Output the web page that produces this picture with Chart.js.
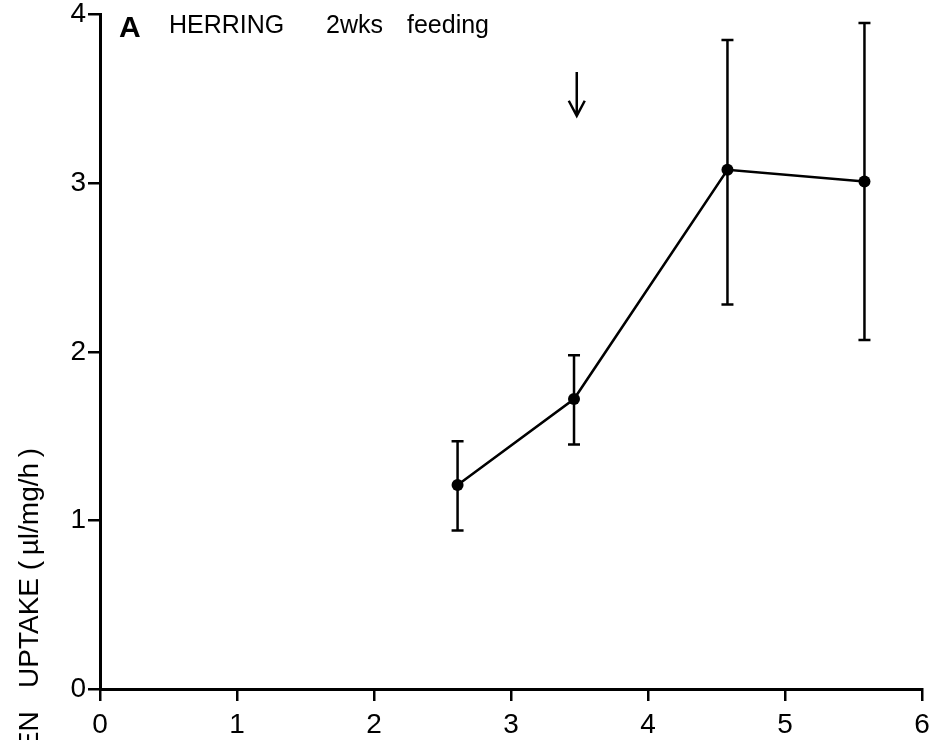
<!DOCTYPE html>
<html>
<head>
<meta charset="utf-8">
<script src="https://cdn.jsdelivr.net/npm/chart.js@4.4.1/dist/chart.umd.min.js"></script>
<style>
  html, body { margin: 0; padding: 0; background: #fff; }
  #wrap { width: 938px; height: 740px; position: relative; }
</style>
</head>
<body>
<div id="wrap"><canvas id="c" width="938" height="740"></canvas></div>
<script>
// Oxygen uptake of herring larvae after 2 weeks of feeding
const ages      = [2.61, 3.46, 4.58, 5.58];
const uptake    = [1.21, 1.72, 3.08, 3.01];
const errLow    = [0.94, 1.45, 2.28, 2.07];
const errHigh   = [1.47, 1.98, 3.85, 3.95];
const xTicks    = [0, 1, 2, 3, 4, 5, 6];
const yTicks    = [0, 1, 2, 3, 4];
const arrowX    = 3.48;
const arrowFrom = 3.66;
const arrowTo   = 3.40;

const INK = '#000';
const FONT = '"Liberation Sans", "DejaVu Sans", sans-serif';

// vertical error bars with flat caps
const errorBars = {
  id: 'errorBars',
  afterDatasetsDraw(chart) {
    const { ctx, scales: { x, y } } = chart;
    ctx.save();
    ctx.strokeStyle = INK;
    ctx.lineWidth = 2.5;
    ages.forEach((a, i) => {
      const px = x.getPixelForValue(a);
      const top = y.getPixelForValue(errHigh[i]);
      const bot = y.getPixelForValue(errLow[i]);
      ctx.beginPath();
      ctx.moveTo(px, top); ctx.lineTo(px, bot);
      ctx.moveTo(px - 6, top); ctx.lineTo(px + 6, top);
      ctx.moveTo(px - 6, bot); ctx.lineTo(px + 6, bot);
      ctx.stroke();
    });
    ctx.restore();
  }
};

// downward arrow, panel heading and the rotated y-axis title
const annotations = {
  id: 'annotations',
  afterDraw(chart) {
    const { ctx, scales: { x, y } } = chart;
    ctx.save();
    ctx.strokeStyle = INK;
    ctx.fillStyle = INK;
    ctx.lineWidth = 2.5;
    const ax = x.getPixelForValue(arrowX);
    const a0 = y.getPixelForValue(arrowFrom);
    const a1 = y.getPixelForValue(arrowTo);
    ctx.beginPath();
    ctx.moveTo(ax, a0); ctx.lineTo(ax, a1);
    ctx.moveTo(ax - 8, a1 - 15); ctx.lineTo(ax, a1); ctx.lineTo(ax + 8, a1 - 15);
    ctx.stroke();

    ctx.textBaseline = 'alphabetic';
    ctx.textAlign = 'left';
    ctx.font = 'bold 30px ' + FONT;
    ctx.fillText('A', 119, 37);
    ctx.font = '25px ' + FONT;
    ctx.fillText('HERRING', 169, 33);
    ctx.fillText('2wks', 326, 33);
    ctx.fillText('feeding', 407, 33);

    ctx.translate(38, 448);
    ctx.rotate(-Math.PI / 2);
    ctx.textAlign = 'right';
    ctx.textBaseline = 'alphabetic';
    ctx.font = '28px ' + FONT;
    ctx.fillText('OXYGEN   UPTAKE (\u2009µl/mg/h\u2009)', 0, 0);
    ctx.restore();
  }
};

new Chart(document.getElementById('c'), {
  type: 'scatter',
  data: {
    datasets: [{
      data: ages.map((a, i) => ({ x: a, y: uptake[i] })),
      showLine: true,
      borderColor: INK,
      borderWidth: 2.5,
      backgroundColor: INK,
      pointRadius: 6,
      pointBorderWidth: 0,
      tension: 0
    }]
  },
  options: {
    responsive: false,
    animation: false,
    events: [],
    layout: { padding: { left: 0, right: 16, top: 14, bottom: 0 } },
    plugins: { legend: { display: false }, tooltip: { enabled: false } },
    scales: {
      x: {
        type: 'linear',
        min: 0, max: 6,
        afterFit: s => { s.height = 51; },
        afterBuildTicks: s => { s.ticks = xTicks.map(v => ({ value: v })); },
        grid: { display: true, drawOnChartArea: false, drawTicks: true, tickLength: 12, color: INK, lineWidth: 2.5 },
        border: { display: true, color: INK, width: 3 },
        ticks: { color: INK, font: { family: FONT, size: 28 }, padding: 7, maxRotation: 0 }
      },
      y: {
        type: 'linear',
        min: 0, max: 4,
        afterFit: s => { s.width = 100; },
        afterBuildTicks: s => { s.ticks = yTicks.map(v => ({ value: v })); },
        grid: { display: true, drawOnChartArea: false, drawTicks: true, tickLength: 12, color: INK, lineWidth: 2.5 },
        border: { display: true, color: INK, width: 3 },
        ticks: { color: INK, font: { family: FONT, size: 28, lineHeight: 0.9 }, padding: 2 }
      }
    }
  },
  plugins: [errorBars, annotations]
});
</script>
</body>
</html>
